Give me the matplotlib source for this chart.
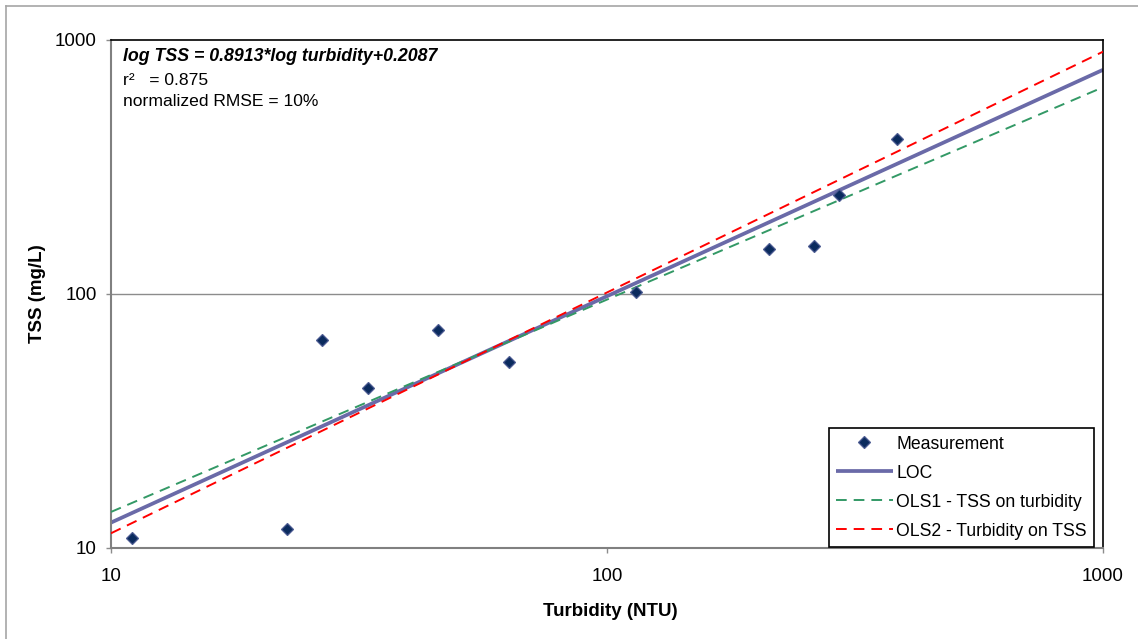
import numpy as np
import matplotlib
matplotlib.use("Agg")
import matplotlib.pyplot as plt
from matplotlib.lines import Line2D

# ---- data ----
turbidity = [11.0, 22.6, 26.6, 32.9, 45.6, 63.5, 114.4, 211.8, 261.4, 293.2, 384.9]
tss = [10.95, 11.9, 65.7, 42.8, 71.9, 53.8, 101.8, 150.4, 155.0, 244.6, 408.7]

# fitted lines: log TSS = slope * log turbidity + intercept
loc_slope, loc_intercept = 0.8913, 0.2087
ols1_slope, ols1_intercept = 0.836, 0.306
ols2_slope, ols2_intercept = 0.948, 0.110

line_x = [10, 1000]
x_ticks = [10, 100, 1000]
y_ticks = [10, 100, 1000]
tick_labels = ["10", "100", "1000"]

plt.rcParams['font.family'] = ['Liberation Sans', 'DejaVu Sans']

W, H = 1138, 639
fig = plt.figure(figsize=(W / 100, H / 100), dpi=100)
ax = fig.add_axes([111 / W, 1 - 548 / H, (1103 - 111) / W, (548 - 40) / H])

ax.set_xscale('log')
ax.set_yscale('log')
ax.set_xlim(10, 1000)
ax.set_ylim(10, 1000)

def fit(xs, m, b):
    xs = np.array(xs, dtype=float)
    return 10 ** (m * np.log10(xs) + b)

ax.axhline(100, color='#8c8c8c', lw=1.0, zorder=1)

ols1_color = '#339966'
ols2_color = '#ff0000'
loc_color = '#6a6aa8'

ax.plot(line_x, fit(line_x, ols1_slope, ols1_intercept), color=ols1_color, lw=1.4,
        linestyle=(0, (5.5, 3.6)), zorder=3, label='OLS1 - TSS on turbidity')
ax.plot(line_x, fit(line_x, ols2_slope, ols2_intercept), color=ols2_color, lw=1.4,
        linestyle=(0, (5.5, 3.6)), zorder=3, label='OLS2 - Turbidity on TSS')
ax.plot(line_x, fit(line_x, loc_slope, loc_intercept), color=loc_color, lw=2.7,
        zorder=2, label='LOC', solid_capstyle='butt')
ax.plot(turbidity, tss, linestyle='none', marker='D', markersize=6.0,
        markerfacecolor='#0b2b5e', markeredgecolor='#4c5b92', markeredgewidth=0.9,
        zorder=4, label='Measurement')

ax.set_xticks(x_ticks)
ax.set_xticklabels(tick_labels)
ax.set_yticks(y_ticks)
ax.set_yticklabels(tick_labels)
ax.minorticks_off()
ax.tick_params(axis='both', which='major', direction='out', length=3.6, width=1.0,
               color='#8c8c8c', labelsize=13.5, labelcolor='black')
ax.tick_params(axis='x', pad=11)
ax.tick_params(axis='y', pad=6.5)

for s in ['left', 'bottom']:
    ax.spines[s].set_color('#808080')
    ax.spines[s].set_linewidth(1.5)
for s in ['top', 'right']:
    ax.spines[s].set_color('black')
    ax.spines[s].set_linewidth(1.2)

fig.text(610 / W, 1 - 612 / H, 'Turbidity (NTU)', ha='center', va='center',
         fontsize=13.5, fontweight='bold')
fig.text(38 / W, 1 - 294 / H, 'TSS (mg/L)', ha='center', va='center',
         fontsize=13.5, fontweight='bold', rotation=90)

tx = (123 - 111) / 992
ax.text(tx, (548 - 61) / 508, 'log TSS = 0.8913*log turbidity+0.2087', transform=ax.transAxes,
        ha='left', va='baseline', fontsize=12.8, fontweight='bold', fontstyle='italic')
ax.text(tx, (548 - 85) / 508, 'r\u00b2   = 0.875', transform=ax.transAxes,
        ha='left', va='baseline', fontsize=12.6)
ax.text(tx, (548 - 106) / 508, 'normalized RMSE = 10%', transform=ax.transAxes,
        ha='left', va='baseline', fontsize=12.6)

handles, labels = ax.get_legend_handles_labels()
order = ['Measurement', 'LOC', 'OLS1 - TSS on turbidity', 'OLS2 - Turbidity on TSS']
hmap = dict(zip(labels, handles))
leg = ax.legend([hmap[o] for o in order], order, loc='lower right',
                bbox_to_anchor=((1094 - 111) / 992, 1 / 508), borderaxespad=0,
                fontsize=12.7, frameon=True, fancybox=False, framealpha=1,
                edgecolor='black', handlelength=3.2, handletextpad=0.2,
                labelspacing=0.68, borderpad=0.42, numpoints=1)
leg.get_frame().set_linewidth(1.2)

# outer chart border (only top & left fall inside the image)
fig.add_artist(Line2D([6 / W, 6 / W], [1 - 6 / H, -0.1], transform=fig.transFigure,
                      color='#a6a6a6', lw=1.2))
fig.add_artist(Line2D([6 / W, 1.1], [1 - 6 / H, 1 - 6 / H], transform=fig.transFigure,
                      color='#a6a6a6', lw=1.2))

fig.savefig('out.png', dpi=100)
